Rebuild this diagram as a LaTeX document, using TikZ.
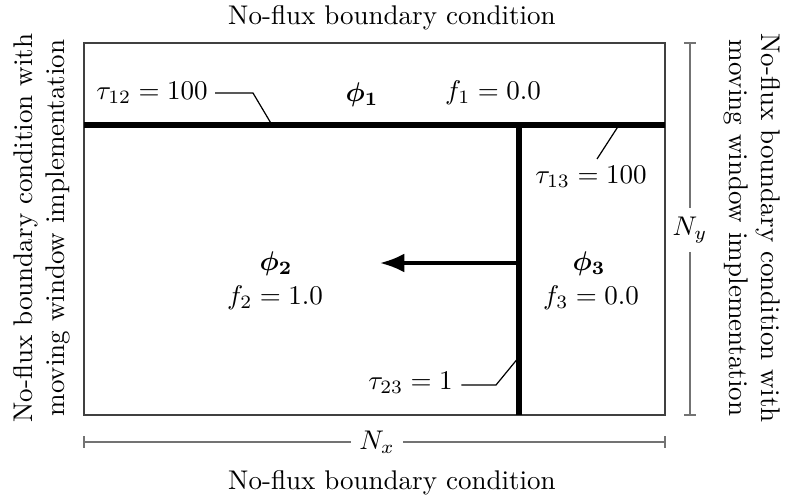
\documentclass[tikz,border=0pt]{standalone}
\usepackage{amsmath}
\usetikzlibrary{arrows.meta}
\begin{document}
\begin{tikzpicture}[x=0.37pt,y=-0.37pt,
  wall/.style={line width=2.2pt},
  frame/.style={draw=black!75,line width=0.55pt},
  leader/.style={line width=0.45pt},
  dim/.style={draw=black!55,line width=0.45pt},
  lbl/.style={inner sep=1pt},
  side/.style={align=center,inner sep=0pt}]
\useasboundingbox (0,0) rectangle (785,498);
% frame
\draw[frame] (84,43) rectangle (665,415);
\coordinate (hl) at (84,125);
\coordinate (hr) at (665,125);
\coordinate (vt) at (519,125);
\coordinate (vb) at (519,415);
\draw[wall] (hl) -- (hr);
\draw[wall] (vt) -- (vb);
% arrow
\coordinate (as) at (519,263);
\coordinate (ae) at (380,263);
\draw[line width=1.2pt,-{Latex[length=9pt,width=7pt]}] (as) -- (ae);
% labels
\node[lbl] (p1) at (362,95) {$\boldsymbol{\phi_1}$};
\node[lbl] (f1) at (493,93) {$f_1 = 0.0$};
\node[lbl] (p2) at (276,264) {$\boldsymbol{\phi_2}$};
\node[lbl] (f2) at (275,298) {$f_2 = 1.0$};
\node[lbl] (p3) at (589,264) {$\boldsymbol{\phi_3}$};
\node[lbl] (f3) at (591,298) {$f_3 = 0.0$};
% tau labels with leaders
\node[lbl,anchor=east] (t12) at (211,93) {$\tau_{12} = 100$};
\coordinate (t12a) at (253,93);
\coordinate (t12b) at (272,125);
\draw[leader] ([xshift=1.5pt]t12.east) -- (t12a) -- (t12b);
\node[lbl] (t13) at (591,177) {$\tau_{13} = 100$};
\coordinate (t13a) at (597,159);
\coordinate (t13b) at (619,125);
\draw[leader] (t13a) -- (t13b);
\node[lbl,anchor=east] (t23) at (456,383) {$\tau_{23} = 1$};
\coordinate (t23a) at (496,385);
\coordinate (t23b) at (519,357);
\draw[leader] ([xshift=2pt]t23.east |- t23a) -- (t23a) -- (t23b);
% dimension Nx
\coordinate (xl) at (84,442);
\coordinate (xr) at (665,442);
\node[lbl,inner sep=3pt] (nx) at (377,442) {$N_x$};
\draw[dim] (xl) -- (nx.west);
\draw[dim] (nx.east) -- (xr);
\draw[dim] ([yshift=-2.2pt]xl) -- ([yshift=2.2pt]xl);
\draw[dim] ([yshift=-2.2pt]xr) -- ([yshift=2.2pt]xr);
% dimension Ny
\coordinate (yt) at (690,43);
\coordinate (yb) at (690,415);
\node[lbl,inner sep=3pt] (ny) at (690,230) {$N_y$};
\draw[dim] (yt) -- (ny.north);
\draw[dim] (ny.south) -- (yb);
\draw[dim] ([xshift=-2.2pt]yt) -- ([xshift=2.2pt]yt);
\draw[dim] ([xshift=-2.2pt]yb) -- ([xshift=2.2pt]yb);
% boundary texts
\node[side] (top) at (392,18) {No-flux boundary condition};
\node[side] (bot) at (392,483) {No-flux boundary condition};
\node[side,rotate=90] (lft) at (42,228) {No-flux boundary condition with\\moving window implementation};
\node[side,rotate=-90] (rgt) at (752,228) {No-flux boundary condition with\\moving window implementation};
\end{tikzpicture}
\end{document}
